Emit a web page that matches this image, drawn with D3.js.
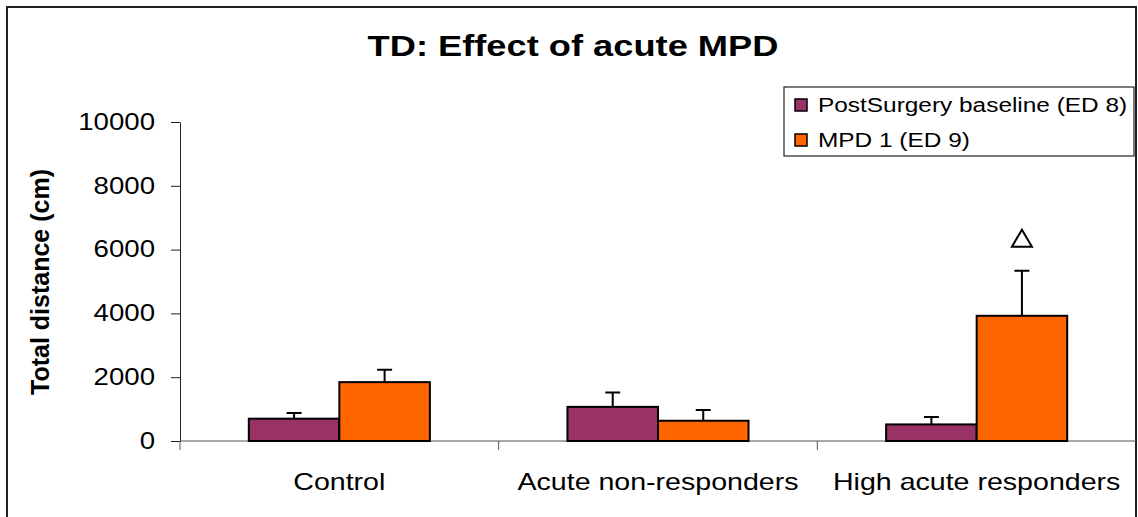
<!DOCTYPE html>
<html>
<head>
<meta charset="utf-8">
<script src="https://cdn.jsdelivr.net/npm/d3@7"></script>
<style>
  body { margin: 0; background: #fff; }
  text { font-family: "Liberation Sans", Arial, sans-serif; fill: #000; }
</style>
</head>
<body>
<div id="chart"></div>
<script>
// Group means and SEM
const categories = ["Control", "Acute non-responders", "High acute responders"];
const seriesNames = ["PostSurgery baseline (ED 8)", "MPD 1 (ED 9)"];
const baseline = [700, 1070, 520];
const baselineErr = [175, 450, 230];
const mpd = [1845, 635, 3925];
const mpdErr = [385, 335, 1415];
const yTicks = [0, 2000, 4000, 6000, 8000, 10000];
// significance marker (triangle) over MPD bar of high responders
const marks = [{ cat: "High acute responders", series: 1 }];

const colors = ["#993366", "#FF6600"];
const width = 1138, height = 517;
const margin = { top: 122, right: 2, bottom: 76, left: 180 };

const data = categories.map((c, i) => ({
  cat: c,
  vals: [
    { s: 0, v: baseline[i], e: baselineErr[i] },
    { s: 1, v: mpd[i], e: mpdErr[i] }
  ]
}));

const svg = d3.select("#chart")
  .append("svg")
  .attr("width", width)
  .attr("height", height);

// stretch text horizontally, the original rendering is wider than Arial
function stretch(sel, k) {
  sel.each(function () {
    const w = this.getComputedTextLength();
    d3.select(this).attr("textLength", w * k).attr("lengthAdjust", "spacingAndGlyphs");
  });
}

// outer frame
svg.append("rect")
  .attr("x", 7).attr("y", 7)
  .attr("width", 1129).attr("height", 530)
  .attr("fill", "none")
  .attr("stroke", "#222")
  .attr("stroke-width", 2);

const x = d3.scaleBand()
  .domain(categories)
  .range([margin.left, width - margin.right])
  .padding(0);

const xs = d3.scaleBand()
  .domain([0, 1])
  .range([0, x.bandwidth()])
  .paddingInner(0)
  .paddingOuter(0.76);

const y = d3.scaleLinear()
  .domain([0, 10000])
  .range([441, margin.top]);

// y axis
const yAxis = svg.append("g")
  .attr("transform", `translate(${margin.left},0)`)
  .call(d3.axisLeft(y).tickValues(yTicks).tickFormat(d3.format("d"))
    .tickSize(9).tickSizeOuter(0).tickPadding(16));
yAxis.select(".domain").attr("stroke", "#222");
yAxis.selectAll(".tick line").attr("stroke", "#222");
yAxis.selectAll(".tick text")
  .attr("font-size", 23)
  .attr("font-family", "Liberation Sans, Arial, sans-serif")
  .attr("fill", "#000")
  .call(stretch, 1.2);

// x axis line and category boundary ticks
svg.append("line")
  .attr("x1", margin.left).attr("x2", width - margin.right)
  .attr("y1", y(0)).attr("y2", y(0))
  .attr("stroke", "#555");
svg.append("g")
  .selectAll("line")
  .data(categories)
  .enter().append("line")
  .attr("x1", d => x(d)).attr("x2", d => x(d))
  .attr("y1", y(0)).attr("y2", y(0) + 9)
  .attr("stroke", "#555");

// bars
const groups = svg.append("g")
  .selectAll("g")
  .data(data)
  .enter().append("g")
  .attr("transform", d => `translate(${x(d.cat)},0)`);

groups.selectAll(".err")
  .data(d => d.vals)
  .enter().append("path")
  .attr("class", "err")
  .attr("d", d => {
    const cx = xs(d.s) + xs.bandwidth() / 2;
    const top = y(d.v + d.e);
    return `M${cx},${y(d.v)}V${top}M${cx - 7.5},${top}H${cx + 7.5}`;
  })
  .attr("stroke", "#000")
  .attr("stroke-width", 2)
  .attr("fill", "none");

groups.selectAll(".bar")
  .data(d => d.vals)
  .enter().append("rect")
  .attr("class", "bar")
  .attr("x", d => xs(d.s))
  .attr("y", d => y(d.v))
  .attr("width", xs.bandwidth())
  .attr("height", d => y(0) - y(d.v))
  .attr("fill", d => colors[d.s])
  .attr("stroke", "#000")
  .attr("stroke-width", 2);

// triangle marker
svg.append("g")
  .selectAll("path")
  .data(marks)
  .enter().append("path")
  .attr("d", m => {
    const i = categories.indexOf(m.cat);
    const v = data[i].vals[m.series];
    const cx = x(m.cat) + xs(m.series) + xs.bandwidth() / 2;
    const b = y(v.v + v.e) - 24;
    return `M${cx - 10},${b}L${cx + 10},${b}L${cx},${b - 17}Z`;
  })
  .attr("fill", "none")
  .attr("stroke", "#000")
  .attr("stroke-width", 2);

// category labels
svg.append("g")
  .selectAll("text")
  .data(categories)
  .enter().append("text")
  .attr("x", d => x(d) + x.bandwidth() / 2)
  .attr("y", 490)
  .attr("text-anchor", "middle")
  .attr("font-size", 24)
  .text(d => d)
  .call(stretch, 1.19);

// title
svg.append("text")
  .attr("x", 573)
  .attr("y", 56)
  .attr("text-anchor", "middle")
  .attr("font-size", 29)
  .attr("font-weight", "bold")
  .text("TD: Effect of acute MPD")
  .call(stretch, 1.25);

// y axis label
svg.append("text")
  .attr("transform", "translate(49,282) rotate(-90)")
  .attr("text-anchor", "middle")
  .attr("font-size", 25)
  .attr("font-weight", "bold")
  .text("Total distance (cm)")
  .call(stretch, 1.0);

// legend
const legend = svg.append("g");
legend.append("rect")
  .attr("x", 784).attr("y", 87)
  .attr("width", 350).attr("height", 69)
  .attr("fill", "#fff")
  .attr("stroke", "#222")
  .attr("stroke-width", 1.2);

const li = legend.selectAll(".item")
  .data(seriesNames)
  .enter().append("g")
  .attr("transform", (d, i) => `translate(0,${i * 35})`);
li.append("rect")
  .attr("x", 795).attr("y", 99)
  .attr("width", 12).attr("height", 12)
  .attr("fill", (d, i) => colors[i])
  .attr("stroke", "#000")
  .attr("stroke-width", 1.5);
li.append("text")
  .attr("x", 818).attr("y", 112)
  .attr("font-size", 20)
  .text(d => d)
  .call(stretch, 1.22);
</script>
</body>
</html>
